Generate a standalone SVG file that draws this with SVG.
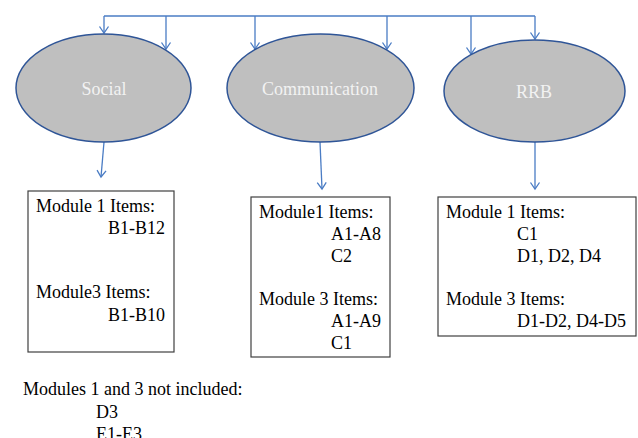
<svg xmlns="http://www.w3.org/2000/svg" width="638" height="438" viewBox="0 0 638 438">
  <style>
    .oval { fill: #bfbfbf; stroke: #2f5597; stroke-width: 1.5; }
    .oval-label { font-family: "Liberation Serif", "Times New Roman", serif; font-size: 18px; fill: #f2f2f2; text-anchor: middle; }
    .box { fill: #ffffff; stroke: #404040; stroke-width: 1.2; }
    .txt { font-family: "Liberation Serif", "Times New Roman", serif; font-size: 18px; fill: #000000; }
    .link { fill: none; stroke: #4a7cc4; stroke-width: 1.3; }
  </style>
  <defs>
    <marker id="arrow" markerUnits="userSpaceOnUse" markerWidth="12" markerHeight="12" viewBox="-8 -6 10 12" refX="0" refY="0" orient="auto">
      <path d="M-6.5,-4.5 L0,0 L-6.5,4.5" fill="none" stroke="#4a7cc4" stroke-width="1.3"/>
    </marker>
  </defs>

  <rect width="638" height="438" fill="#ffffff"/>

  <!-- connectors -->
  <g id="connectors">
    <path class="link" d="M104,16 L535,16"/>
    <path class="link" d="M104,16 L104,33" marker-end="url(#arrow)"/>
    <path class="link" d="M166,16 L166,49" marker-end="url(#arrow)"/>
    <path class="link" d="M255,16 L255,49" marker-end="url(#arrow)"/>
    <path class="link" d="M387,16 L387,49" marker-end="url(#arrow)"/>
    <path class="link" d="M471,16 L471,54" marker-end="url(#arrow)"/>
    <path class="link" d="M535,16 L535,39" marker-end="url(#arrow)"/>
    <path class="link" d="M104,142 L101,177" marker-end="url(#arrow)"/>
    <path class="link" d="M320,142 L322,189" marker-end="url(#arrow)"/>
    <path class="link" d="M535,142 L535,189" marker-end="url(#arrow)"/>
  </g>

  <!-- domains -->
  <g id="social">
    <ellipse class="oval" cx="103.5" cy="88" rx="87.5" ry="54"/>
    <text class="oval-label" x="104" y="95">Social</text>
  </g>
  <g id="communication">
    <ellipse class="oval" cx="320.5" cy="88" rx="93.5" ry="54"/>
    <text class="oval-label" x="320" y="95">Communication</text>
  </g>
  <g id="rrb">
    <ellipse class="oval" cx="534.5" cy="91" rx="90.5" ry="51"/>
    <text class="oval-label" x="534" y="98">RRB</text>
  </g>

  <!-- item lists -->
  <g id="social-items">
    <rect class="box" x="28" y="191" width="146" height="161"/>
    <text class="txt" x="36" y="212">Module 1 Items:</text>
    <text class="txt" x="108" y="234">B1-B12</text>
    <text class="txt" x="36" y="298">Module3 Items:</text>
    <text class="txt" x="108" y="321">B1-B10</text>
  </g>
  <g id="communication-items">
    <rect class="box" x="251" y="197" width="139" height="160"/>
    <text class="txt" x="259" y="218">Module1 Items:</text>
    <text class="txt" x="331" y="240">A1-A8</text>
    <text class="txt" x="331" y="262">C2</text>
    <text class="txt" x="259" y="305">Module 3 Items:</text>
    <text class="txt" x="331" y="327">A1-A9</text>
    <text class="txt" x="331" y="349">C1</text>
  </g>
  <g id="rrb-items">
    <rect class="box" x="438" y="197" width="198" height="139"/>
    <text class="txt" x="446" y="218">Module 1 Items:</text>
    <text class="txt" x="517" y="240">C1</text>
    <text class="txt" x="517" y="262">D1, D2, D4</text>
    <text class="txt" x="446" y="305">Module 3 Items:</text>
    <text class="txt" x="517" y="327">D1-D2, D4-D5</text>
  </g>

  <!-- excluded items -->
  <g id="not-included">
    <text class="txt" x="23" y="395">Modules 1 and 3 not included:</text>
    <text class="txt" x="96" y="418">D3</text>
    <text class="txt" x="96" y="440">E1-E3</text>
  </g>
</svg>
